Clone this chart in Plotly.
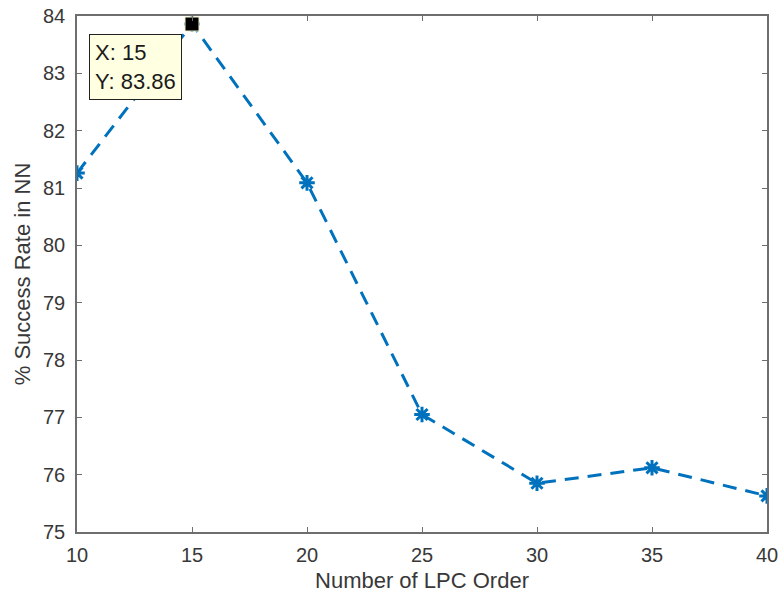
import plotly.graph_objects as go

# LPC order vs. neural-network success rate
lpc_order = [10, 15, 20, 25, 30, 35, 40]
success_rate = [81.26, 83.86, 81.09, 77.05, 75.85, 76.12, 75.63]

# highlighted data tip
tip_x = 15
tip_y = 83.86

x_ticks = [10, 15, 20, 25, 30, 35, 40]
y_ticks = [75, 76, 77, 78, 79, 80, 81, 82, 83, 84]

line_blue = "#0072BD"
axis_grey = "#6e6e6e"
text_grey = "#383838"
font_family = "Liberation Sans, Arial, sans-serif"

fig = go.Figure()

fig.add_trace(go.Scatter(
    x=lpc_order,
    y=success_rate,
    mode="lines+markers",
    line=dict(color=line_blue, width=3, dash="14px,9px"),
    marker=dict(symbol="asterisk-open", size=13,
                line=dict(color=line_blue, width=3)),
    showlegend=False,
    hoverinfo="x+y",
))

fig.add_trace(go.Scatter(
    x=[tip_x],
    y=[tip_y],
    mode="markers",
    marker=dict(symbol="square", size=14, color="black",
                line=dict(color="#f3efc8", width=1)),
    showlegend=False,
    hoverinfo="skip",
    cliponaxis=False,
))

fig.add_annotation(
    x=tip_x, y=tip_y, xref="x", yref="y",
    text=f"X: {tip_x}<br>Y: {tip_y:.2f}",
    showarrow=False,
    xanchor="right", yanchor="top",
    xshift=-10, yshift=-10,
    align="left",
    font=dict(family=font_family, size=22, color="#1a1a1a"),
    bgcolor="#FFFFE1",
    bordercolor="#222222",
    borderwidth=1,
    borderpad=5,
)

axis_common = dict(
    showline=True, linecolor=axis_grey, linewidth=1.5, mirror="ticks",
    ticks="inside", ticklen=5, tickwidth=1.2, tickcolor=axis_grey,
    showgrid=False, zeroline=False, automargin=False,
    tickfont=dict(family=font_family, size=20, color=text_grey),
)

fig.update_xaxes(
    range=[10, 40], tickvals=x_ticks,
    ticklabelstandoff=4,
    title=dict(text="Number of LPC Order", standoff=8,
               font=dict(family=font_family, size=22, color=text_grey)),
    **axis_common,
)
fig.update_yaxes(
    range=[75, 84], tickvals=y_ticks,
    ticklabelstandoff=6,
    title=dict(text="% Success Rate in NN", standoff=6,
               font=dict(family=font_family, size=22, color=text_grey)),
    **axis_common,
)

fig.update_layout(
    width=783, height=599,
    margin=dict(l=77, r=16, t=16, b=67),
    paper_bgcolor="white",
    plot_bgcolor="white",
)

fig.write_html("out.html")
